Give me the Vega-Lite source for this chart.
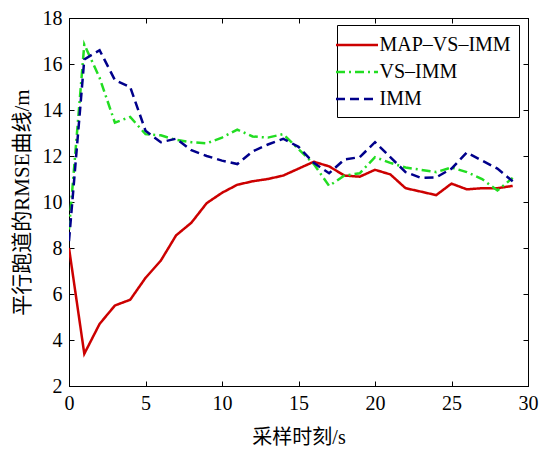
{
  "$schema": "https://vega.github.io/schema/vega-lite/v6.json",
  "width": 459,
  "height": 368,
  "autosize": {"type": "none"},
  "padding": {"left": 69, "top": 18, "right": 16, "bottom": 64},
  "background": "white",
  "config": {
    "font": "Liberation Serif",
    "view": {"stroke": "black", "strokeWidth": 1},
    "axis": {
      "grid": false,
      "domainColor": "black",
      "tickColor": "black",
      "labelColor": "black",
      "titleColor": "black",
      "labelFont": "Liberation Serif",
      "labelFontSize": 20,
      "titleFont": "Liberation Serif, Noto Sans CJK SC",
      "titleFontSize": 20,
      "titleFontWeight": "normal",
      "tickSize": -5,
      "domainWidth": 1
    },
    "legend": {"labelFont": "Liberation Serif"}
  },
  "data": {
    "values": [
      {"t": 0, "v": 8.0, "s": "MAP–VS–IMM"},
      {"t": 1, "v": 3.4, "s": "MAP–VS–IMM"},
      {"t": 2, "v": 4.7, "s": "MAP–VS–IMM"},
      {"t": 3, "v": 5.5, "s": "MAP–VS–IMM"},
      {"t": 4, "v": 5.75, "s": "MAP–VS–IMM"},
      {"t": 5, "v": 6.7, "s": "MAP–VS–IMM"},
      {"t": 6, "v": 7.45, "s": "MAP–VS–IMM"},
      {"t": 7, "v": 8.55, "s": "MAP–VS–IMM"},
      {"t": 8, "v": 9.1, "s": "MAP–VS–IMM"},
      {"t": 9, "v": 9.95, "s": "MAP–VS–IMM"},
      {"t": 10, "v": 10.4, "s": "MAP–VS–IMM"},
      {"t": 11, "v": 10.75, "s": "MAP–VS–IMM"},
      {"t": 12, "v": 10.9, "s": "MAP–VS–IMM"},
      {"t": 13, "v": 11.0, "s": "MAP–VS–IMM"},
      {"t": 14, "v": 11.15, "s": "MAP–VS–IMM"},
      {"t": 15, "v": 11.45, "s": "MAP–VS–IMM"},
      {"t": 16, "v": 11.75, "s": "MAP–VS–IMM"},
      {"t": 17, "v": 11.55, "s": "MAP–VS–IMM"},
      {"t": 18, "v": 11.15, "s": "MAP–VS–IMM"},
      {"t": 19, "v": 11.1, "s": "MAP–VS–IMM"},
      {"t": 20, "v": 11.4, "s": "MAP–VS–IMM"},
      {"t": 21, "v": 11.2, "s": "MAP–VS–IMM"},
      {"t": 22, "v": 10.6, "s": "MAP–VS–IMM"},
      {"t": 23, "v": 10.45, "s": "MAP–VS–IMM"},
      {"t": 24, "v": 10.3, "s": "MAP–VS–IMM"},
      {"t": 25, "v": 10.8, "s": "MAP–VS–IMM"},
      {"t": 26, "v": 10.55, "s": "MAP–VS–IMM"},
      {"t": 27, "v": 10.6, "s": "MAP–VS–IMM"},
      {"t": 28, "v": 10.6, "s": "MAP–VS–IMM"},
      {"t": 29, "v": 10.7, "s": "MAP–VS–IMM"},
      {"t": 0, "v": 8.8, "s": "VS–IMM"},
      {"t": 1, "v": 16.85, "s": "VS–IMM"},
      {"t": 2, "v": 15.4, "s": "VS–IMM"},
      {"t": 3, "v": 13.45, "s": "VS–IMM"},
      {"t": 4, "v": 13.7, "s": "VS–IMM"},
      {"t": 5, "v": 12.95, "s": "VS–IMM"},
      {"t": 6, "v": 12.9, "s": "VS–IMM"},
      {"t": 7, "v": 12.7, "s": "VS–IMM"},
      {"t": 8, "v": 12.6, "s": "VS–IMM"},
      {"t": 9, "v": 12.55, "s": "VS–IMM"},
      {"t": 10, "v": 12.8, "s": "VS–IMM"},
      {"t": 11, "v": 13.15, "s": "VS–IMM"},
      {"t": 12, "v": 12.85, "s": "VS–IMM"},
      {"t": 13, "v": 12.8, "s": "VS–IMM"},
      {"t": 14, "v": 12.95, "s": "VS–IMM"},
      {"t": 15, "v": 12.3, "s": "VS–IMM"},
      {"t": 16, "v": 11.65, "s": "VS–IMM"},
      {"t": 17, "v": 10.7, "s": "VS–IMM"},
      {"t": 18, "v": 11.15, "s": "VS–IMM"},
      {"t": 19, "v": 11.25, "s": "VS–IMM"},
      {"t": 20, "v": 11.95, "s": "VS–IMM"},
      {"t": 21, "v": 11.7, "s": "VS–IMM"},
      {"t": 22, "v": 11.5, "s": "VS–IMM"},
      {"t": 23, "v": 11.4, "s": "VS–IMM"},
      {"t": 24, "v": 11.3, "s": "VS–IMM"},
      {"t": 25, "v": 11.5, "s": "VS–IMM"},
      {"t": 26, "v": 11.3, "s": "VS–IMM"},
      {"t": 27, "v": 11.0, "s": "VS–IMM"},
      {"t": 28, "v": 10.5, "s": "VS–IMM"},
      {"t": 29, "v": 11.05, "s": "VS–IMM"},
      {"t": 0, "v": 8.3, "s": "IMM"},
      {"t": 1, "v": 16.2, "s": "IMM"},
      {"t": 2, "v": 16.6, "s": "IMM"},
      {"t": 3, "v": 15.3, "s": "IMM"},
      {"t": 4, "v": 15.0, "s": "IMM"},
      {"t": 5, "v": 13.1, "s": "IMM"},
      {"t": 6, "v": 12.6, "s": "IMM"},
      {"t": 7, "v": 12.75, "s": "IMM"},
      {"t": 8, "v": 12.25, "s": "IMM"},
      {"t": 9, "v": 12.0, "s": "IMM"},
      {"t": 10, "v": 11.8, "s": "IMM"},
      {"t": 11, "v": 11.65, "s": "IMM"},
      {"t": 12, "v": 12.2, "s": "IMM"},
      {"t": 13, "v": 12.5, "s": "IMM"},
      {"t": 14, "v": 12.75, "s": "IMM"},
      {"t": 15, "v": 12.4, "s": "IMM"},
      {"t": 16, "v": 11.7, "s": "IMM"},
      {"t": 17, "v": 11.25, "s": "IMM"},
      {"t": 18, "v": 11.85, "s": "IMM"},
      {"t": 19, "v": 11.95, "s": "IMM"},
      {"t": 20, "v": 12.6, "s": "IMM"},
      {"t": 21, "v": 11.95, "s": "IMM"},
      {"t": 22, "v": 11.3, "s": "IMM"},
      {"t": 23, "v": 11.05, "s": "IMM"},
      {"t": 24, "v": 11.07, "s": "IMM"},
      {"t": 25, "v": 11.45, "s": "IMM"},
      {"t": 26, "v": 12.15, "s": "IMM"},
      {"t": 27, "v": 11.8, "s": "IMM"},
      {"t": 28, "v": 11.45, "s": "IMM"},
      {"t": 29, "v": 10.9, "s": "IMM"}
    ]
  },
  "resolve": {"axis": {"x": "independent", "y": "independent"}},
  "layer": [
    {
      "mark": {"type": "line", "strokeWidth": 2.5, "clip": true},
      "encoding": {
        "x": {"field": "t", "type": "quantitative", "scale": {"domain": [0, 30], "nice": false},
          "axis": {"orient": "bottom", "values": [0, 5, 10, 15, 20, 25, 30], "labelPadding": 12, "title": "采样时刻/s", "titlePadding": 14, "labelFlush": false}},
        "y": {"field": "v", "type": "quantitative", "scale": {"domain": [2, 18], "nice": false, "zero": false},
          "axis": {"orient": "left", "values": [2, 4, 6, 8, 10, 12, 14, 16, 18], "labelPadding": 12, "title": "平行跑道的RMSE曲线/m", "titlePadding": 10, "titleFontSize": 21, "labelFlush": false}},
        "color": {"field": "s", "type": "nominal",
          "scale": {"domain": ["MAP–VS–IMM", "VS–IMM", "IMM"], "range": ["#cc0000", "#22dd22", "#00008b"]},
          "legend": {
            "title": null, "orient": "none", "legendX": 268, "legendY": 7,
            "symbolType": "M-2,0H2", "symbolSize": 441, "symbolStrokeWidth": 2.5,
            "labelFontSize": 20, "labelColor": "black",
            "labelOffset": 10.5, "rowPadding": 5, "padding": 8,
            "strokeColor": "black", "fillColor": "white"
          }},
        "strokeDash": {"field": "s", "type": "nominal",
          "scale": {"domain": ["MAP–VS–IMM", "VS–IMM", "IMM"], "range": [[1, 0], [9, 4, 2, 4], [9, 5]]},
          "legend": null},
        "order": {"field": "t", "type": "quantitative"}
      }
    },
    {
      "mark": {"type": "line", "opacity": 0},
      "encoding": {
        "x": {"field": "t", "type": "quantitative", "scale": {"domain": [0, 30], "nice": false},
          "axis": {"orient": "top", "values": [0, 5, 10, 15, 20, 25, 30], "labels": false, "title": null}},
        "y": {"field": "v", "type": "quantitative", "scale": {"domain": [2, 18], "nice": false, "zero": false},
          "axis": {"orient": "right", "values": [2, 4, 6, 8, 10, 12, 14, 16, 18], "labels": false, "title": null}},
        "detail": {"field": "s", "type": "nominal"}
      }
    }
  ]
}
